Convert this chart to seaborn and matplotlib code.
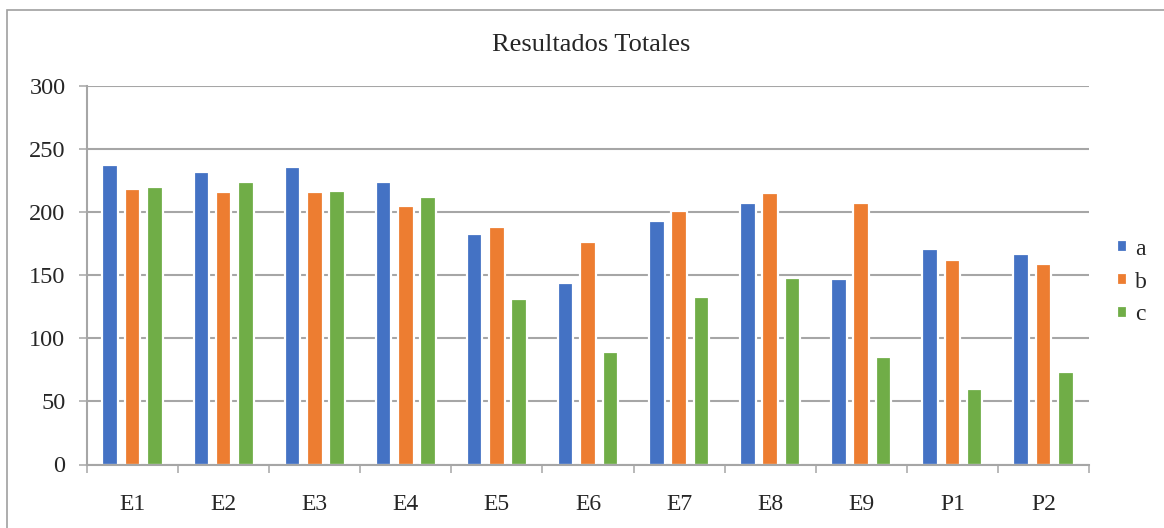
import matplotlib

matplotlib.use("Agg", force=True)
import matplotlib.pyplot as plt
import pandas as pd
import seaborn as sns
from matplotlib.patches import Rectangle
from matplotlib.ticker import FixedLocator

# values
categories = ["E1", "E2", "E3", "E4", "E5", "E6", "E7", "E8", "E9", "P1", "P2"]
series_a = [237, 232, 236, 224, 183, 144, 193, 207, 147, 171, 167]
series_b = [218, 216, 216, 205, 188, 176, 201, 215, 207, 162, 159]
series_c = [220, 224, 217, 212, 131, 89, 133, 148, 85, 60, 73]
series_names = ["a", "b", "c"]
y_ticks = [0, 50, 100, 150, 200, 250, 300]
title = "Resultados Totales"

COLORS = ["#4472C4", "#ED7D31", "#70AD47"]
GRID = "#a6a6a6"
W, H = 1164, 528


def build_frame() -> pd.DataFrame:
    rows = []
    for name, vals in zip(series_names, [series_a, series_b, series_c]):
        for cat, v in zip(categories, vals):
            rows.append({"cat": cat, "serie": name, "valor": v})
    return pd.DataFrame(rows)


def main() -> None:
    sns.set_theme(style="white")
    plt.rcParams["font.family"] = ["Liberation Serif", "DejaVu Serif"]

    df = build_frame()
    fig = plt.figure(figsize=(W / 100, H / 100), dpi=100)
    ax = fig.add_axes([87 / W, 1 - 464.5 / H, (1089 - 87) / W, (464.5 - 86) / H])

    sns.barplot(
        data=df, x="cat", y="valor", hue="serie", order=categories, hue_order=series_names,
        palette=COLORS, width=0.735, gap=0.3, saturation=1, edgecolor="white", linewidth=1.6,
        ax=ax, zorder=3,
    )

    ax.set_ylim(0, 300)
    ax.set_xlim(-0.5, len(categories) - 0.5)
    ax.set_yticks(y_ticks)
    ax.yaxis.grid(True, color=GRID, linewidth=1.5, zorder=0)
    ax.set_axisbelow(True)
    ax.set_xlabel("")
    ax.set_ylabel("")

    for side in ["top", "right"]:
        ax.spines[side].set_visible(False)
    for side in ["left", "bottom"]:
        ax.spines[side].set_color(GRID)
        ax.spines[side].set_linewidth(1.5)
        ax.spines[side].set_zorder(5)

    ax.tick_params(axis="y", which="major", left=True, length=5.5, width=1.1, color=GRID,
                   labelsize=17.5, pad=10)
    ax.tick_params(axis="x", which="major", bottom=False, labelsize=17, pad=15)
    ax.xaxis.set_minor_locator(FixedLocator([i - 0.5 for i in range(len(categories) + 1)]))
    ax.tick_params(axis="x", which="minor", bottom=True, length=5.5, width=1.1, color=GRID)

    sns.move_legend(
        ax, "center left", bbox_to_anchor=(1117 / W, 1 - 282 / H), bbox_transform=fig.transFigure,
        frameon=False, title=None, fontsize=17, handlelength=0.42, handleheight=0.42,
        handletextpad=0.35, labelspacing=0.5, borderpad=0, borderaxespad=0,
    )

    fig.text(591 / W, 1 - 45 / H, title, ha="center", va="center", fontsize=19)

    fig.patches.append(Rectangle((7 / W, -0.1), 1.2, 1.1 - 10 / H, transform=fig.transFigure,
                                 fill=False, edgecolor="#a0a0a0", linewidth=1.2, zorder=0))

    fig.savefig("out.png", dpi=100)
    plt.close(fig)


if __name__ == "__main__":
    main()
